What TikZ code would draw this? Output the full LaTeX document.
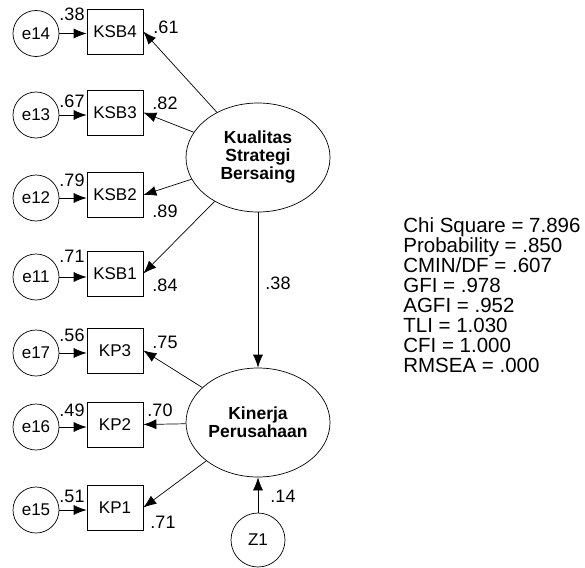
\documentclass[tikz,border=0pt]{standalone}
\usepackage{fontspec}
\setmainfont{Liberation Sans}
\usetikzlibrary{arrows.meta,shapes.geometric}

\begin{document}
\begin{tikzpicture}[x=1pt,y=-1pt,>={Latex[length=13pt,width=10pt]},line width=0.7pt,
  obs/.style={draw,rectangle,minimum width=56pt,minimum height=45pt,inner sep=0pt,font=\fontsize{17}{19}\selectfont},
  err/.style={draw,circle,minimum size=46pt,inner sep=0pt,font=\fontsize{17}{19}\selectfont},
  lat/.style={draw,ellipse,minimum width=144pt,minimum height=109pt,inner sep=0pt,align=center,font=\fontsize{17.5}{18}\selectfont\bfseries},
  est/.style={inner sep=0pt,font=\fontsize{18}{20}\selectfont}]
\useasboundingbox (0,0) rectangle (585,567);
% latent variables
\node[lat](ksb) at (258,157.5){Kualitas\\Strategi\\Bersaing};
\node[lat](kp) at (258,422.5){Kinerja\\Perusahaan};
\node[err,minimum size=54pt](z1) at (258,540){Z1};
% indicators
\node[obs](ksb4) at (115,31.5){KSB4};
\node[obs](ksb3) at (115,112.5){KSB3};
\node[obs](ksb2) at (115,195){KSB2};
\node[obs](ksb1) at (115,273.5){KSB1};
\node[obs](kp3) at (115,350.5){KP3};
\node[obs](kp2) at (115,424.5){KP2};
\node[obs](kp1) at (115,507.5){KP1};
% errors
\node[err](e14) at (36,33.5){e14};
\node[err](e13) at (36,115){e13};
\node[err](e12) at (36,198){e12};
\node[err](e11) at (36,277){e11};
\node[err](e17) at (36,353){e17};
\node[err](e16) at (36,427){e16};
\node[err](e15) at (36,510){e15};
\draw[->](e14)--(e14-|ksb4.west);\draw[->](e13)--(e13-|ksb3.west);
\draw[->](e12)--(e12-|ksb2.west);\draw[->](e11)--(e11-|ksb1.west);
\draw[->](e17)--(e17-|kp3.west);\draw[->](e16)--(e16-|kp2.west);
\draw[->](e15)--(e15-|kp1.west);
% loadings
\draw[->](ksb)--(ksb4.east);\draw[->](ksb)--(ksb3.east);
\draw[->](ksb)--(ksb2.east);\draw[->](ksb)--(ksb1.east);
\draw[->](kp)--(kp3.east);\draw[->](kp)--(kp2.east);\draw[->](kp)--(kp1.east);
\draw[->](ksb)--(kp);\draw[->](z1)--(kp);
% estimates
\node[est](v38) at (72,14){.38};
\node[est](v67) at (72,101){.67};
\node[est](v79) at (72,180){.79};
\node[est](v71) at (72,256){.71};
\node[est](v56) at (72,335){.56};
\node[est](v49) at (72,410){.49};
\node[est](v51) at (72,496){.51};
\node[est](l61) at (166,27){.61};
\node[est](l82) at (165,103){.82};
\node[est](l89) at (165,211){.89};
\node[est](l84) at (165,285){.84};
\node[est](l75) at (165,342){.75};
\node[est](l70) at (160,410){.70};
\node[est](l71) at (163,522){.71};
\node[est](b38) at (278,283){.38};
\node[est](b14) at (283,496){.14};
% fit
\node[anchor=north west,inner sep=0pt,align=left,font=\fontsize{20.5}{20}\selectfont](fit) at (403,217){Chi Square = 7.896\\Probability = .850\\CMIN/DF = .607\\GFI = .978\\AGFI = .952\\TLI = 1.030\\CFI = 1.000\\RMSEA = .000};
\end{tikzpicture}
\end{document}
